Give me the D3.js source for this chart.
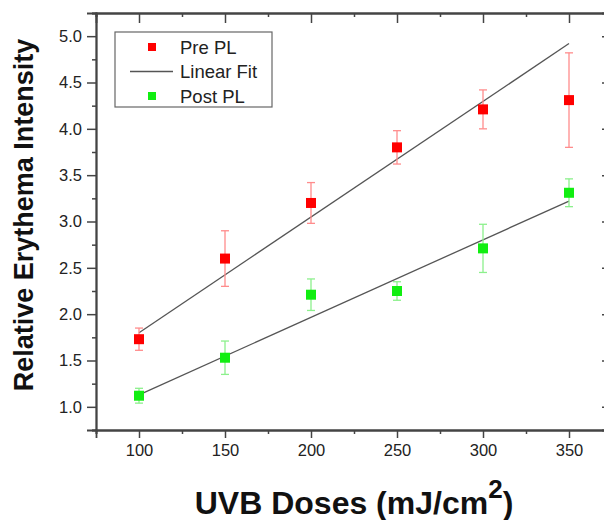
<!DOCTYPE html>
<html>
<head>
<meta charset="utf-8">
<script src="https://cdn.jsdelivr.net/npm/d3@7"></script>
<style>
  body { margin: 0; background: #fff; }
  svg text { font-family: "Liberation Sans", Arial, Helvetica, sans-serif; }
</style>
</head>
<body>
<svg id="chart" width="604" height="520"></svg>
<script>
// UVB dose levels (mJ/cm^2)
var doses = [100, 150, 200, 250, 300, 350];

// Pre PL means and error half-widths
var preValues = [1.73, 2.60, 3.20, 3.80, 4.21, 4.31];
var preErrors = [0.12, 0.30, 0.22, 0.18, 0.21, 0.51];

// Post PL means and error half-widths
var postValues = [1.12, 1.53, 2.21, 2.25, 2.71, 3.31];
var postErrors = [0.08, 0.18, 0.17, 0.10, 0.26, 0.15];

// Linear fit endpoints
var preFit = [[100, 1.80], [350, 4.92]];
var postFit = [[100, 1.13], [350, 3.22]];

var xTicks = [100, 150, 200, 250, 300, 350];
var yTicks = [1.0, 1.5, 2.0, 2.5, 3.0, 3.5, 4.0, 4.5, 5.0];

var svg = d3.select("#chart");

// Plot frame runs off the right edge of the picture.
var x = d3.scaleLinear().domain([75, 375]).range([96, 612]);
var y = d3.scaleLinear().domain([0.75, 5.25]).range([430, 13]);

var frameColor = "#444";

// Minor ticks sit halfway between the major ones.
var xMinor = d3.range(75, 376, 25).filter(function(v){ return v % 50 !== 0; });
var yMinor = d3.range(0.75, 5.26, 0.25).filter(function(v){ return Math.abs(v * 2 - Math.round(v * 2)) > 0.01; });

// Bottom axis: ticks point outward.
var bottomAxis = svg.append("g").attr("transform", "translate(0,430)");
bottomAxis.call(d3.axisBottom(x).tickValues(xTicks).tickSize(8).tickPadding(6).tickFormat(d3.format("d")));
bottomAxis.append("g").call(d3.axisBottom(x).tickValues(xMinor).tickSize(4).tickFormat(""));

// Left axis: ticks point outward.
var leftAxis = svg.append("g").attr("transform", "translate(96,0)");
leftAxis.call(d3.axisLeft(y).tickValues(yTicks).tickSize(9).tickPadding(5).tickFormat(d3.format(".1f")));
leftAxis.append("g").call(d3.axisLeft(y).tickValues(yMinor).tickSize(4).tickFormat(""));

// Top and right axes: ticks point inward, no labels.
var topAxis = svg.append("g").attr("transform", "translate(0,13)");
topAxis.call(d3.axisBottom(x).tickValues(xTicks).tickSize(10).tickFormat(""));
topAxis.append("g").call(d3.axisBottom(x).tickValues(xMinor).tickSize(4).tickFormat(""));

var rightAxis = svg.append("g").attr("transform", "translate(612,0)");
rightAxis.call(d3.axisLeft(y).tickValues(yTicks).tickSize(10).tickFormat(""));
rightAxis.append("g").call(d3.axisLeft(y).tickValues(yMinor).tickSize(4).tickFormat(""));

svg.selectAll(".domain").attr("stroke", frameColor).attr("stroke-width", 1.8);
svg.selectAll(".tick line").attr("stroke", frameColor).attr("stroke-width", 1.5);
svg.selectAll(".tick text")
    .attr("font-size", 16.5)
    .attr("fill", "#222");

// Linear fits
var line = d3.line()
    .x(function(d){ return x(d[0]); })
    .y(function(d){ return y(d[1]); });

[preFit, postFit].forEach(function(fit){
    svg.append("path")
        .datum(fit)
        .attr("d", line)
        .attr("fill", "none")
        .attr("stroke", "#555")
        .attr("stroke-width", 1.3);
});

// Error bars and square markers for one series.
function drawSeries(values, errors, color, barColor){
    var g = svg.append("g");
    var pts = doses.map(function(d, i){ return { x: d, y: values[i], e: errors[i] }; });

    var bars = g.selectAll("g.err").data(pts).enter().append("g")
        .attr("stroke", barColor)
        .attr("stroke-width", 1.3);
    bars.append("line")
        .attr("x1", function(d){ return x(d.x); })
        .attr("x2", function(d){ return x(d.x); })
        .attr("y1", function(d){ return y(d.y - d.e); })
        .attr("y2", function(d){ return y(d.y + d.e); });
    [-1, 1].forEach(function(s){
        bars.append("line")
            .attr("x1", function(d){ return x(d.x) - 4; })
            .attr("x2", function(d){ return x(d.x) + 4; })
            .attr("y1", function(d){ return y(d.y + s * d.e); })
            .attr("y2", function(d){ return y(d.y + s * d.e); });
    });

    g.selectAll("rect").data(pts).enter().append("rect")
        .attr("x", function(d){ return x(d.x) - 5; })
        .attr("y", function(d){ return y(d.y) - 5; })
        .attr("width", 10)
        .attr("height", 10)
        .attr("fill", color);
}

drawSeries(preValues, preErrors, "#ff0000", "#ff8c8c");
drawSeries(postValues, postErrors, "#11ee11", "#8cf08c");

// Legend
var legend = svg.append("g");
legend.append("rect")
    .attr("x", 115).attr("y", 32)
    .attr("width", 157).attr("height", 75)
    .attr("fill", "#fff")
    .attr("stroke", "#666")
    .attr("stroke-width", 1.2);

var legendItems = [
    { label: "Pre PL", type: "square", color: "#ff0000" },
    { label: "Linear Fit", type: "line", color: "#555" },
    { label: "Post PL", type: "square", color: "#11ee11" }
];
legendItems.forEach(function(item, i){
    var cy = 47 + i * 24.5;
    if (item.type === "square") {
        legend.append("rect")
            .attr("x", 148).attr("y", cy - 4)
            .attr("width", 8).attr("height", 8)
            .attr("fill", item.color);
    } else {
        legend.append("line")
            .attr("x1", 130).attr("x2", 173)
            .attr("y1", cy).attr("y2", cy)
            .attr("stroke", item.color)
            .attr("stroke-width", 1.3);
    }
    legend.append("text")
        .attr("x", 180).attr("y", cy + 6.5)
        .attr("font-size", 18.5)
        .attr("fill", "#222")
        .text(item.label);
});

// Axis titles
var xTitle = svg.append("text")
    .attr("x", 354).attr("y", 514)
    .attr("text-anchor", "middle")
    .attr("font-size", 32)
    .attr("font-weight", "bold")
    .attr("fill", "#111");
xTitle.append("tspan").text("UVB Doses (mJ/cm");
xTitle.append("tspan").attr("dy", -16).attr("font-size", 26).text("2");
xTitle.append("tspan").attr("dy", 16).text(")");

svg.append("text")
    .attr("transform", "translate(33,215) rotate(-90)")
    .attr("text-anchor", "middle")
    .attr("font-size", 27)
    .attr("font-weight", "bold")
    .attr("fill", "#111")
    .text("Relative Erythema Intensity");
</script>
</body>
</html>
